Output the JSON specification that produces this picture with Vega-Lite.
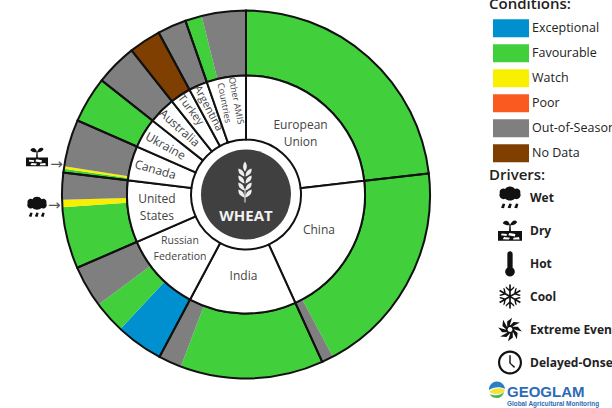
{
"$schema":"https://vega.github.io/schema/vega-lite/v6.json",
"width":492,"height":389,
"autosize":{"type":"none"},
"padding":{"left":0,"top":0,"right":120,"bottom":19},
"background":"white",
"title":{"text":"GEOGLAM","subtitle":"Global Agricultural Monitoring","orient":"bottom","anchor":"start","frame":"group","dx":507,"offset":-13,"font":"Liberation Sans","fontSize":15,"fontWeight":"bold","color":"#2d6cb5","subtitleFont":"Liberation Sans","subtitleFontSize":6.4,"subtitleFontWeight":"bold","subtitleColor":"#2d6cb5","subtitlePadding":1},
"config":{"view":{"stroke":null},"font":"Open Sans"},
"datasets":{
"conditions":[
{"i":1,"country":"European Union","condition":"Favourable","share":23.17},
{"i":2,"country":"China","condition":"Favourable","share":19.0},
{"i":3,"country":"China","condition":"Out-of-Season","share":1.03},
{"i":4,"country":"India","condition":"Favourable","share":12.56},
{"i":5,"country":"India","condition":"Out-of-Season","share":2.03},
{"i":6,"country":"Russian Federation","condition":"Exceptional","share":4.17},
{"i":7,"country":"Russian Federation","condition":"Favourable","share":2.83},
{"i":8,"country":"Russian Federation","condition":"Out-of-Season","share":3.69},
{"i":9,"country":"United States","condition":"Favourable","share":5.42},
{"i":10,"country":"United States","condition":"Watch","share":0.64},
{"i":11,"country":"United States","condition":"Out-of-Season","share":2.36},
{"i":12,"country":"Canada","condition":"Favourable","share":0.33},
{"i":13,"country":"Canada","condition":"Watch","share":0.22},
{"i":14,"country":"Canada","condition":"Out-of-Season","share":4.14},
{"i":15,"country":"Ukraine","condition":"Favourable","share":4.06},
{"i":16,"country":"Australia","condition":"Out-of-Season","share":3.67},
{"i":17,"country":"Turkey","condition":"No Data","share":2.81},
{"i":18,"country":"Argentina","condition":"Out-of-Season","share":2.53},
{"i":19,"country":"Other AMIS Countries","condition":"Favourable","share":1.47},
{"i":20,"country":"Other AMIS Countries","condition":"Out-of-Season","share":3.87}
],
"countries":[
{"i":1,"country":"European Union","label":"European\nUnion","share":23.17},
{"i":2,"country":"China","label":"China","share":20.03},
{"i":3,"country":"India","label":"India","share":14.59},
{"i":4,"country":"Russian Federation","label":"Russian\nFederation","share":10.69},
{"i":5,"country":"United States","label":"United\nStates","share":8.42},
{"i":6,"country":"Canada","label":"Canada","share":4.69},
{"i":7,"country":"Ukraine","label":"Ukraine","share":4.06},
{"i":8,"country":"Australia","label":"Australia","share":3.67},
{"i":9,"country":"Turkey","label":"Turkey","share":2.81},
{"i":10,"country":"Argentina","label":"Argentina","share":2.53},
{"i":11,"country":"Other AMIS Countries","label":"Other AMIS\nCountries","share":5.34}
],
"drivers":[
{"driver":"Dry","country":"Canada","at":77.58},
{"driver":"Wet","country":"United States","at":74.14}
],
"hub":[{"crop":"WHEAT","share":100}],
"globe":[{"part":"sky"},{"part":"sun"},{"part":"land"}]
},
"resolve":{"scale":{"x":"independent","y":"independent","shape":"independent","color":"independent"}},
"layer":[
{"data":{"name":"conditions"},
 "mark":{"type":"arc","innerRadius":119,"outerRadius":184},
 "encoding":{
  "theta":{"field":"share","type":"quantitative","stack":true,"scale":{"domain":[0,100]}},
  "order":{"field":"i","type":"quantitative"},
  "color":{"field":"condition","type":"nominal","scale":{"domain":["Exceptional","Favourable","Watch","Poor","Out-of-Season","No Data"],"range":["#0090cf","#41cf3b","#f8f000","#fa5a20","#7f7f7f","#7f3f00"]},
   "legend":{"title":"Conditions:","orient":"none","legendX":489,"legendY":-3,"titleFont":"Open Sans","titleFontSize":15,"titleFontWeight":600,"titleColor":"#222","titlePadding":4,"labelFont":"Open Sans","labelFontSize":12.5,"labelColor":"#222","labelOffset":3,"labelLimit":200,"symbolType":"M-1,-0.5H1V0.5H-1Z","symbolSize":1296,"symbolStrokeWidth":0,"clipHeight":24.4,"rowPadding":0,"symbolOffset":4,"symbolOpacity":1}}
 }},
{"data":{"name":"countries"},
 "mark":{"type":"arc","innerRadius":119,"outerRadius":184,"filled":false,"stroke":"#111","strokeWidth":2},
 "encoding":{
  "theta":{"field":"share","type":"quantitative","stack":true,"scale":{"domain":[0,100]}},
  "order":{"field":"i","type":"quantitative"},
  "detail":{"field":"country"}
 }},
{"data":{"name":"countries"},
 "mark":{"type":"arc","innerRadius":55,"outerRadius":119,"fill":"white","stroke":"#111","strokeWidth":2},
 "encoding":{
  "theta":{"field":"share","type":"quantitative","stack":true,"scale":{"domain":[0,100]}},
  "order":{"field":"i","type":"quantitative"},
  "detail":{"field":"country"}
 }},
{"data":{"name":"countries"},
 "encoding":{
  "theta":{"field":"share","type":"quantitative","stack":true,"scale":{"domain":[0,100]}},
  "order":{"field":"i","type":"quantitative"},
  "detail":{"field":"country"},
  "angle":{"field":"country","type":"nominal","legend":null,"scale":{"type":"ordinal","domain":["European Union","China","India","Russian Federation","United States","Canada","Ukraine","Australia","Turkey","Argentina","Other AMIS Countries"],"range":[0,0,0,0,0,16,29,42,53,62,79]}},
  "size":{"field":"country","type":"nominal","legend":null,"scale":{"type":"ordinal","domain":["European Union","China","India","Russian Federation","United States","Canada","Ukraine","Australia","Turkey","Argentina","Other AMIS Countries"],"range":[12,12,12,10.5,12,12,12,12,11,11,9]}}
 },
 "layer":[
 {"mark":{"type":"text","radius":82,"dy":-8.5,"lineBreak":"\n","lineHeight":17,"color":"#444"},
  "encoding":{"text":{"condition":{"test":"datum.country==='European Union'","field":"label"},"value":""}}},
 {"mark":{"type":"text","radius":82,"lineBreak":"\n","color":"#444"},
  "encoding":{"text":{"condition":{"test":"datum.country==='India'","field":"label"},"value":""}}},
 {"mark":{"type":"text","radius":81,"dx":2.4,"dy":-4,"lineBreak":"\n","color":"#444"},
  "encoding":{"text":{"condition":{"test":"datum.country==='China'","field":"label"},"value":""}}},
 {"mark":{"type":"text","radius":85,"dx":-3.6,"dy":-11,"lineBreak":"\n","lineHeight":16,"color":"#444"},
  "encoding":{"text":{"condition":{"test":"datum.country==='Russian Federation'","field":"label"},"value":""}}},
 {"mark":{"type":"text","radius":90,"dy":-9,"lineBreak":"\n","lineHeight":17,"color":"#444"},
  "encoding":{"text":{"condition":{"test":"datum.country==='United States'","field":"label"},"value":""}}},
 {"mark":{"type":"text","radius":94,"lineBreak":"\n","color":"#444"},
  "encoding":{"text":{"condition":{"test":"indexof(['Canada','Ukraine','Australia','Argentina'],datum.country)>=0","field":"label"},"value":""}}},
 {"mark":{"type":"text","radius":94,"dy":-6,"lineBreak":"\n","lineHeight":12,"color":"#444"},
  "encoding":{"text":{"condition":{"test":"datum.country==='Other AMIS Countries'","field":"label"},"value":""}}},
 {"mark":{"type":"text","radius":101,"lineBreak":"\n","color":"#444"},
  "encoding":{"text":{"condition":{"test":"datum.country==='Turkey'","field":"label"},"value":""}}}
 ]},
{"data":{"name":"hub"},
 "mark":{"type":"arc","innerRadius":0,"outerRadius":45,"fill":"#404040"},
 "encoding":{"theta":{"field":"share","type":"quantitative","stack":true,"scale":{"domain":[0,100]}},"detail":{"field":"crop"}}},
{"data":{"name":"hub"},
 "mark":{"type":"text","radius":21,"color":"#f2f2f2","fontWeight":"bold","fontSize":15,"font":"Open Sans"},
 "encoding":{"theta":{"field":"share","type":"quantitative","stack":true,"scale":{"domain":[0,100]}},"text":{"field":"crop"}}},
{"data":{"name":"hub"},
 "mark":{"type":"point","filled":true,"opacity":1,"color":"#eeeeee","size":4,"shape":"M-1,-33C1.5,-30,1.5,-26,-1,-23C-3.5,-26,-3.5,-30,-1,-33Z M-1.5,-6H-0.5V8H-1.5Z M-1.6,-18C-7,-20,-8,-23,-7.5,-26C-4,-25,-1.6,-23,-1.6,-18Z M-0.4,-18C5,-20,6,-23,5.5,-26C2,-25,-0.4,-23,-0.4,-18Z M-1.6,-11C-7,-13,-8,-16,-7.5,-19C-4,-18,-1.6,-16,-1.6,-11Z M-0.4,-11C5,-13,6,-16,5.5,-19C2,-18,-0.4,-16,-0.4,-11Z M-1.6,-4C-7,-6,-8,-9,-7.5,-12C-4,-11,-1.6,-9,-1.6,-4Z M-0.4,-4C5,-6,6,-9,5.5,-12C2,-11,-0.4,-9,-0.4,-4Z M-1.6,3C-7,1,-8,-2,-7.5,-5C-4,-4,-1.6,-2,-1.6,3Z M-0.4,3C5,1,6,-2,5.5,-5C2,-4,-0.4,-2,-0.4,3Z"},
 "encoding":{}},
{"data":{"name":"drivers"},
 "mark":{"type":"text","radius":192,"text":"→","fontSize":15,"color":"#555","font":"DejaVu Sans"},
 "encoding":{"theta":{"field":"at","type":"quantitative","stack":null,"scale":{"domain":[0,100]}},"detail":{"field":"driver"}}},
{"data":{"name":"drivers"},
 "mark":{"type":"point","filled":true,"opacity":1,"color":"#111","size":484},
 "encoding":{
  "x":{"field":"driver","type":"nominal","axis":null,"scale":{"type":"point","domain":["Dry","Wet"],"range":[37,37],"padding":0}},
  "y":{"field":"driver","type":"nominal","axis":null,"scale":{"type":"point","domain":["Dry","Wet"],"range":[157,207],"padding":0}},
  "shape":{"field":"driver","type":"nominal","scale":{"domain":["Wet","Dry","Hot","Cool","Extreme Event","Delayed-Onset"],"range":[
   "M-0.85,-0.35C-0.95,-0.7,-0.55,-0.85,-0.4,-0.7C-0.3,-1,0.3,-1,0.4,-0.7C0.55,-0.85,0.95,-0.7,0.85,-0.35C1,-0.05,0.65,0.25,0.4,0.1C0.2,0.3,-0.2,0.3,-0.4,0.1C-0.65,0.25,-1,-0.05,-0.85,-0.35Z M-0.6,0.5L-0.4,0.55L-0.5,0.9L-0.75,0.85Z M-0.05,0.5L0.15,0.55L0.05,0.9L-0.2,0.85Z M0.5,0.5L0.7,0.55L0.6,0.9L0.35,0.85Z",
   "M-1,0.05H1V0.85H-1Z M-0.7,0.25L-0.75,0.4L-0.3,0.45L-0.25,0.3Z M-0.05,0.2L-0.15,0.4L0.4,0.5L0.45,0.3Z M-0.5,0.55L-0.6,0.72L-0.1,0.75L0,0.6Z M0.3,0.6L0.25,0.75L0.8,0.75L0.75,0.55Z M-0.08,0.05L-0.05,-0.45L0.05,-0.45L0.08,0.05Z M0,-0.45C-0.1,-0.9,-0.5,-0.9,-0.6,-0.6C-0.4,-0.45,-0.2,-0.4,0,-0.45Z M0,-0.45C0.15,-0.85,0.45,-0.95,0.6,-0.7C0.45,-0.45,0.2,-0.4,0,-0.45Z",
   "M-0.22,0.35V-0.8A0.22,0.22 0 0 1 0.22,-0.8V0.35A0.4,0.4 0 1 1 -0.22,0.35Z",
   "M-0.07,-1H0.07V1H-0.07Z M0.83,-0.56L0.9,-0.44L-0.83,0.56L-0.9,0.44Z M-0.83,-0.56L0.9,0.44L0.83,0.56L-0.9,-0.44Z M-0.35,-0.85L0,-0.55L0.35,-0.85L0.35,-0.7L0,-0.38L-0.35,-0.7Z M-0.35,0.85L-0.35,0.7L0,0.38L0.35,0.7L0.35,0.85L0,0.55Z M0.561,-0.728L0.476,-0.275L0.911,-0.122L0.781,-0.047L0.329,-0.19L0.431,-0.653Z M0.911,0.122L0.476,0.275L0.561,0.728L0.431,0.653L0.329,0.19L0.781,0.047Z M-0.561,0.728L-0.476,0.275L-0.911,0.122L-0.781,0.047L-0.329,0.19L-0.431,0.653Z M-0.911,-0.122L-0.476,-0.275L-0.561,-0.728L-0.431,-0.653L-0.329,-0.19L-0.781,-0.047Z",
   "M-0.34,0A0.34,0.34 0 1,1 0.34,0A0.34,0.34 0 1,1 -0.34,0Z M-0.2,0A0.2,0.2 0 1,0 0.2,0A0.2,0.2 0 1,0 -0.2,0Z M0.32,0L0.634,0.296L0.574,0.819L0.245,0.206Z M0.226,0.226L0.239,0.658L-0.174,0.985L0.028,0.319Z M0,0.32L-0.296,0.634L-0.819,0.574L-0.206,0.245Z M-0.226,0.226L-0.658,0.239L-0.985,-0.174L-0.319,0.028Z M-0.32,0L-0.634,-0.296L-0.574,-0.819L-0.245,-0.206Z M-0.226,-0.226L-0.239,-0.658L0.174,-0.985L-0.028,-0.319Z M0,-0.32L0.296,-0.634L0.819,-0.574L0.206,-0.245Z M0.226,-0.226L0.658,-0.239L0.985,0.174L0.319,-0.028Z",
   "M-1,0A1,1 0 1,1 1,0A1,1 0 1,1 -1,0Z M-0.82,0A0.82,0.82 0 1,0 0.82,0A0.82,0.82 0 1,0 -0.82,0Z M-0.06,-0.6H0.06V0.05H-0.06Z M-0.04,-0.04L0.42,0.36L0.34,0.45L-0.08,0.04Z"
  ]},
  "legend":{"title":"Drivers:","orient":"none","legendX":489,"legendY":168,"titleFont":"Open Sans","titleFontSize":15,"titleFontWeight":600,"titleColor":"#222","titlePadding":-2,"labelFont":"Open Sans","labelFontSize":12,"labelFontWeight":"bold","labelColor":"#222","labelOffset":8,"labelLimit":200,"symbolSize":576,"symbolFillColor":"#111","symbolStrokeWidth":0,"clipHeight":33,"rowPadding":0,"symbolOffset":9,"symbolOpacity":1}}
 }},
{"data":{"name":"globe"},
 "mark":{"type":"point","filled":true,"opacity":1,"size":4},
 "encoding":{
  "x":{"field":"part","type":"nominal","axis":null,"scale":{"type":"point","range":[497,497]}},
  "y":{"field":"part","type":"nominal","axis":null,"scale":{"type":"point","range":[391,391]}},
  "color":{"field":"part","type":"nominal","legend":null,"scale":{"domain":["sky","sun","land"],"range":["#2a7fc4","#f2e33a","#4cb648"]}},
  "shape":{"field":"part","type":"nominal","legend":null,"scale":{"domain":["sky","sun","land"],"range":["M-8,-1A8,8 0 0 1 8,-2C3,-5,-4,-4,-8,-1Z","M-8,1C-4,-3,3,-4,8,-1C7,2,3,3,-1,3C-3,3,-6,2,-8,1Z","M-7,3C-3,5,3,5,7,1C6,5,3,7,0,7C-3,7,-6,6,-7,3Z"]}}
 }}
]
}
